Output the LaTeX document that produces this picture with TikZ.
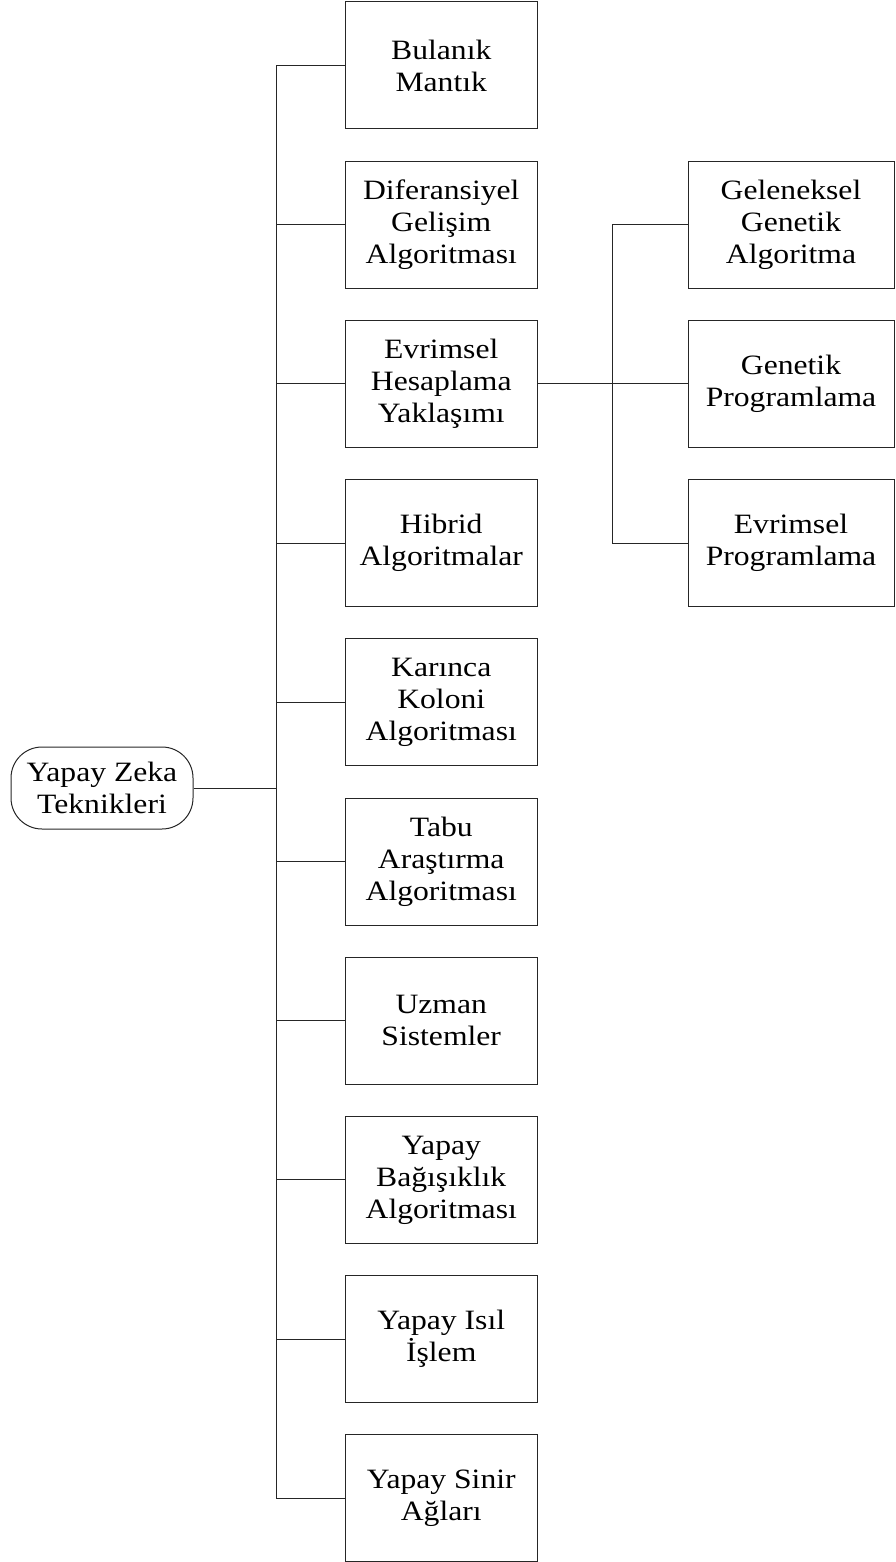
\documentclass[tikz,border=0pt]{standalone}
\usepackage{fontspec}
\setmainfont[FakeStretch=1.13]{Liberation Serif}
\begin{document}
\begin{tikzpicture}[x=1pt,y=-1pt,
  line width=1pt,
  every node/.style={font=\fontsize{28}{32}\selectfont, align=center, inner sep=0pt},
  item/.style={draw=black!85, minimum width=191.5pt, minimum height=127pt},
  subitem/.style={draw=black!85, minimum width=206pt, minimum height=127pt},
  root/.style={draw=black!85, rounded corners=31pt, minimum width=182pt, minimum height=82pt},
  link/.style={draw=black!85}]
\useasboundingbox (0,0) rectangle (896,1562);

% root
\node[root] (root) at (102,788) {Yapay Zeka\\Teknikleri};

% main column
\foreach \i/\txt in {
  1/{Bulanık\\Mantık},
  2/{Diferansiyel\\Gelişim\\Algoritması},
  3/{Evrimsel\\Hesaplama\\Yaklaşımı},
  4/{Hibrid\\Algoritmalar},
  5/{Karınca\\Koloni\\Algoritması},
  6/{Tabu\\Araştırma\\Algoritması},
  7/{Uzman\\Sistemler},
  8/{Yapay\\Bağışıklık\\Algoritması},
  9/{Yapay Isıl\\İşlem},
  10/{Yapay Sinir\\Ağları}}
  \node[item] (b\i) at (441.25, {65.5+159.2*(\i-1)}) {\txt};

% sub column
\node[subitem] (g1) at (791,224.7) {Geleneksel\\Genetik\\Algoritma};
\node[subitem] (g2) at (791,383.9) {Genetik\\Programlama};
\node[subitem] (g3) at (791,543.1) {Evrimsel\\Programlama};

% trunks
\coordinate (t) at (276,788);
\coordinate (u) at (612,383.9);

\draw[link] (root.east) -- (t);
\draw[link] (b1.west) -- (b1.west -| t) -- (b10.west -| t) -- (b10.west);
\foreach \i in {2,...,9}
  \draw[link] (b\i.west) -- (b\i.west -| t);

\draw[link] (b3.east) -- (g2.west);
\draw[link] (g1.west) -- (g1.west -| u) -- (g3.west -| u) -- (g3.west);
\end{tikzpicture}
\end{document}
